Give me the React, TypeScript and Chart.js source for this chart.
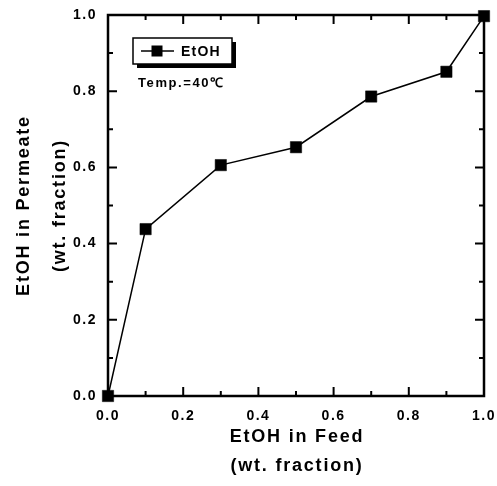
import React, { useEffect, useRef } from "react";
import { Chart, registerables } from "chart.js";

Chart.register(...registerables);

const feedFraction = [0.0, 0.1, 0.3, 0.5, 0.7, 0.9, 1.0];
const permeateFraction = [0.0, 0.438, 0.606, 0.653, 0.786, 0.851, 0.997];
const seriesLabel = "EtOH";
const tempLabel = "Temp.=40\u2103";
const xTitleLines = ["EtOH in Feed", "(wt. fraction)"];
const yTitleLines = ["EtOH in Permeate", "(wt. fraction)"];
const axisMin = 0;
const axisMax = 1;
const majorStep = 0.2;
const minorStep = 0.1;

const FONT = "'Liberation Sans', Arial, sans-serif";

const framePlugin = {
  id: "framePlugin",
  beforeDraw(chart: any) {
    chart.ctx.letterSpacing = "1.5px";
  },
  beforeDatasetsDraw(chart: any) {
    const { ctx, chartArea } = chart;
    const xs = chart.scales.x;
    const ys = chart.scales.y;
    const { left, right, top, bottom } = chartArea;
    ctx.save();
    ctx.strokeStyle = "#000";
    ctx.lineWidth = 2.5;
    ctx.strokeRect(left, top, right - left, bottom - top);
    ctx.lineWidth = 2;
    const n = Math.round((axisMax - axisMin) / minorStep);
    for (let i = 1; i < n; i++) {
      const v = axisMin + i * minorStep;
      const major = i % Math.round(majorStep / minorStep) === 0;
      const len = major ? 9 : 5;
      const px = xs.getPixelForValue(v);
      const py = ys.getPixelForValue(v);
      ctx.beginPath();
      ctx.moveTo(px, bottom);
      ctx.lineTo(px, bottom - len);
      ctx.moveTo(px, top);
      ctx.lineTo(px, top + len);
      ctx.moveTo(left, py);
      ctx.lineTo(left + len, py);
      ctx.moveTo(right, py);
      ctx.lineTo(right - len, py);
      ctx.stroke();
    }
    ctx.restore();
  },
  afterDraw(chart: any) {
    const { ctx, chartArea } = chart;
    const { left, right, top, bottom } = chartArea;
    ctx.save();
    ctx.fillStyle = "#000";
    ctx.textAlign = "center";
    ctx.textBaseline = "middle";
    ctx.font = `bold 18px ${FONT}`;
    ctx.letterSpacing = "1.8px";
    const cx = (left + right) / 2;
    ctx.fillText(xTitleLines[0], cx + 1, 437);
    ctx.fillText(xTitleLines[1], cx + 1, 466);
    const cy = (top + bottom) / 2;
    ctx.save();
    ctx.translate(24, cy);
    ctx.rotate(-Math.PI / 2);
    ctx.fillText(yTitleLines[0], 0, 0);
    ctx.restore();
    ctx.save();
    ctx.translate(60, cy);
    ctx.rotate(-Math.PI / 2);
    ctx.fillText(yTitleLines[1], 0, 0);
    ctx.restore();

    // legend box with shadow
    const bx = 133, by = 38, bw = 99, bh = 26;
    ctx.fillStyle = "#000";
    ctx.fillRect(bx + 4, by + 4, bw, bh);
    ctx.fillStyle = "#fff";
    ctx.fillRect(bx, by, bw, bh);
    ctx.strokeStyle = "#000";
    ctx.lineWidth = 1.5;
    ctx.strokeRect(bx, by, bw, bh);
    const ly = by + bh / 2;
    ctx.lineWidth = 1.5;
    ctx.beginPath();
    ctx.moveTo(141, ly);
    ctx.lineTo(174, ly);
    ctx.stroke();
    ctx.fillStyle = "#000";
    ctx.fillRect(151.5, ly - 5.5, 11, 11);
    ctx.font = `bold 14px ${FONT}`;
    ctx.letterSpacing = "1.2px";
    ctx.textAlign = "left";
    ctx.fillText(chart.data.datasets[0].label, 181, ly + 1);
    ctx.font = `bold 13px ${FONT}`;
    ctx.letterSpacing = "1.6px";
    ctx.fillText(tempLabel, 138, 83);
    ctx.restore();
  },
};

export default function App() {
  const ref = useRef<HTMLCanvasElement | null>(null);
  useEffect(() => {
    if (!ref.current) return;
    const points = feedFraction.map((x, i) => ({ x, y: permeateFraction[i] }));
    const tickFont = { family: FONT, size: 14, weight: "bold" as const };
    const chart = new Chart(ref.current, {
      type: "scatter",
      data: {
        datasets: [
          {
            label: seriesLabel,
            data: points,
            showLine: true,
            borderColor: "#000",
            backgroundColor: "#000",
            borderWidth: 1.5,
            pointStyle: "rect",
            pointRadius: 8,
            pointBorderWidth: 0.5,
            clip: false as any,
          },
        ],
      },
      options: {
        animation: false,
        responsive: false,
        maintainAspectRatio: false,
        layout: { padding: { left: 0, top: 15, right: 13, bottom: 0 } },
        plugins: { legend: { display: false }, tooltip: { enabled: false } },
        scales: {
          x: {
            type: "linear",
            min: axisMin,
            max: axisMax,
            grid: { display: false },
            border: { display: false },
            ticks: {
              stepSize: majorStep,
              color: "#000",
              font: tickFont,
              padding: 4,
              maxRotation: 0,
              callback: (v: any) => Number(v).toFixed(1),
            },
            afterFit: (s: any) => {
              s.height = 90;
              s.paddingLeft = 0;
              s.paddingRight = 0;
            },
          },
          y: {
            type: "linear",
            min: axisMin,
            max: axisMax,
            grid: { display: false },
            border: { display: false },
            ticks: {
              stepSize: majorStep,
              color: "#000",
              font: tickFont,
              padding: 3,
              callback: (v: any) => Number(v).toFixed(1),
            },
            afterFit: (s: any) => {
              s.width = 108;
              s.paddingTop = 0;
              s.paddingBottom = 0;
            },
          },
        },
      },
      plugins: [framePlugin],
    });
    return () => chart.destroy();
  }, []);
  return (
    <div style={{ position: "fixed", left: 0, top: 0, width: 497, height: 486, background: "#fff" }}>
      <canvas ref={ref} width={497} height={486} style={{ width: 497, height: 486 }} />
    </div>
  );
}
